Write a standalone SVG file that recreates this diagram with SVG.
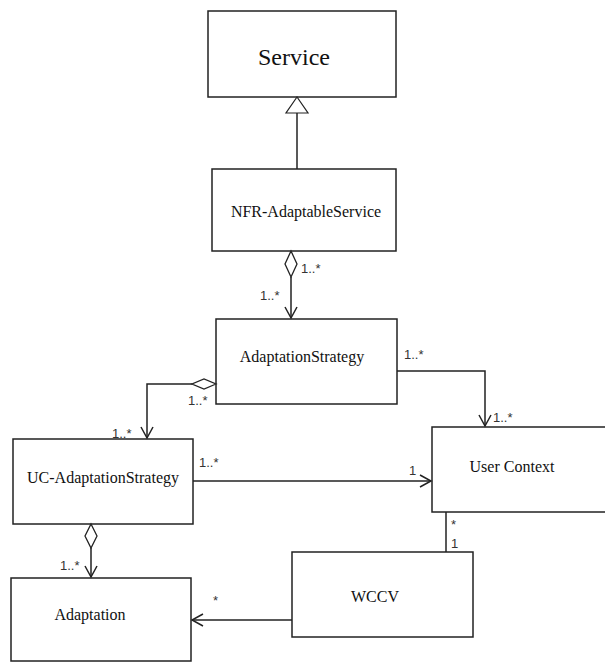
<svg xmlns="http://www.w3.org/2000/svg" width="605" height="663" viewBox="0 0 605 663">
<style>
.box{fill:#fff;stroke:#222;stroke-width:1.5}
.t{font-family:"Liberation Serif","Times New Roman",serif;font-size:16px;fill:#111;text-anchor:middle}
.m{font-family:"Liberation Sans",Arial,sans-serif;font-size:13px;fill:#333}
.ln{fill:none;stroke:#222;stroke-width:1.5}
</style>
<defs>
<marker id="open" markerWidth="14" markerHeight="14" refX="12" refY="7" orient="auto" markerUnits="userSpaceOnUse"><path d="M1,1 L12,7 L1,13" fill="none" stroke="#222" stroke-width="1.5"/></marker>
</defs>
<g id="Service"><rect class="box" x="208" y="11" width="188" height="86"/><text class="t" x="294" y="65" style="font-size:24px">Service</text></g>
<g id="NFR"><rect class="box" x="212" y="169" width="184" height="82"/><text class="t" x="306" y="217">NFR-AdaptableService</text></g>
<g id="AS"><rect class="box" x="216" y="319" width="181" height="85"/><text class="t" x="302" y="362">AdaptationStrategy</text></g>
<g id="UC"><rect class="box" x="13" y="439" width="180" height="85"/><text class="t" x="103" y="483">UC-AdaptationStrategy</text></g>
<g id="UserContext"><rect class="box" x="432" y="427" width="180" height="85"/><text class="t" x="512" y="472">User Context</text></g>
<g id="WCCV"><rect class="box" x="292" y="552" width="181" height="85"/><text class="t" x="375" y="602">WCCV</text></g>
<g id="Adaptation"><rect class="box" x="11" y="578" width="180" height="83"/><text class="t" x="90" y="620">Adaptation</text></g>
<g id="connectors">
<line class="ln" x1="297" y1="113" x2="297" y2="169"/>
<polygon points="297,97 286,113 308,113" fill="#fff" stroke="#222" stroke-width="1.2"/>
<polygon points="291,251 297,264 291,277 285,264" fill="#fff" stroke="#222" stroke-width="1.3"/>
<line class="ln" x1="291" y1="277" x2="291" y2="318" marker-end="url(#open)"/>
<polygon points="216,384 204,389 192,384 204,379" fill="#fff" stroke="#222" stroke-width="1.3"/>
<polyline class="ln" points="192,384 147,384 147,438" marker-end="url(#open)"/>
<polyline class="ln" points="397,371 485,371 485,426" marker-end="url(#open)"/>
<polyline class="ln" points="193,481 431,481" marker-end="url(#open)"/>
<polygon points="91,524 97,536 91,548 85,536" fill="#fff" stroke="#222" stroke-width="1.3"/>
<line class="ln" x1="91" y1="548" x2="91" y2="577" marker-end="url(#open)"/>
<line class="ln" x1="446" y1="512" x2="446" y2="552"/>
<line class="ln" x1="292" y1="620" x2="192" y2="620" marker-end="url(#open)"/>
<text class="m" x="301" y="273">1..*</text>
<text class="m" x="260" y="300">1..*</text>
<text class="m" x="188" y="405">1..*</text>
<text class="m" x="112" y="438">1..*</text>
<text class="m" x="404" y="359">1..*</text>
<text class="m" x="493" y="422">1..*</text>
<text class="m" x="199" y="467">1..*</text>
<text class="m" x="409" y="475">1</text>
<text class="m" x="451" y="529">*</text>
<text class="m" x="451" y="548">1</text>
<text class="m" x="60" y="570">1..*</text>
<text class="m" x="213" y="605">*</text>
</g>
</svg>
